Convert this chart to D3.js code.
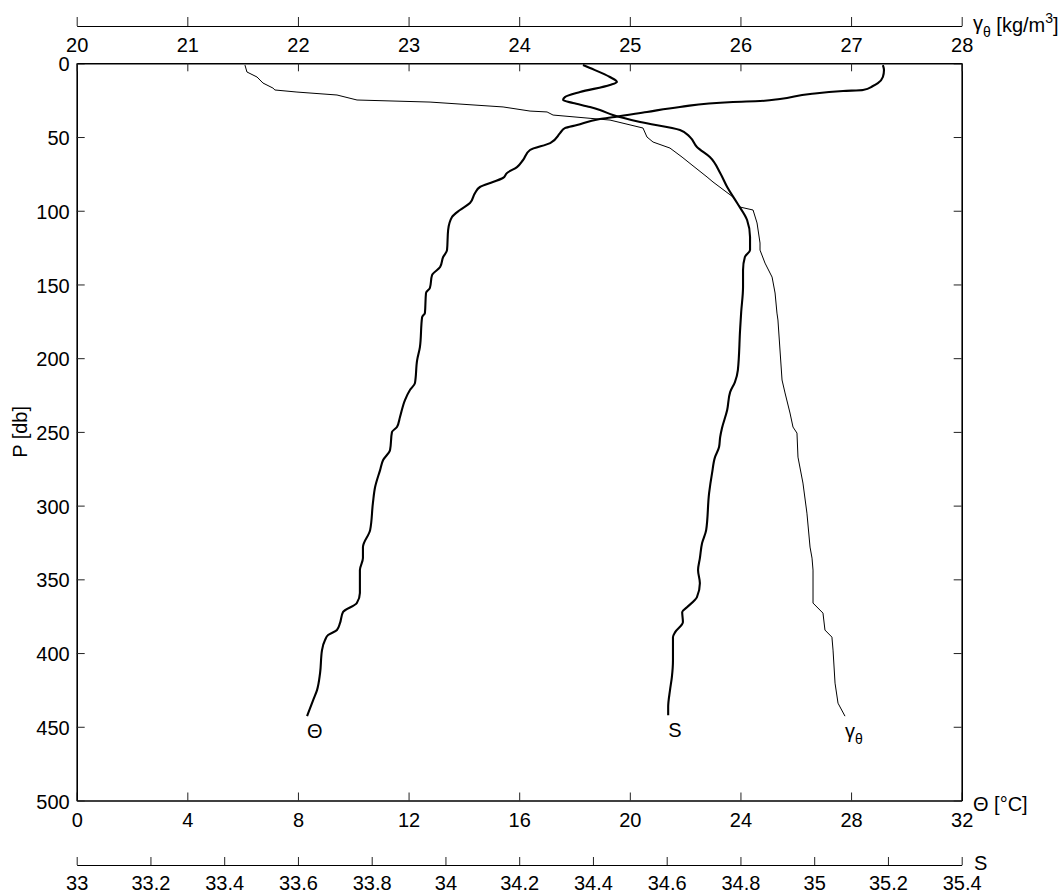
<!DOCTYPE html>
<html>
<head>
<meta charset="utf-8">
<script src="https://cdn.jsdelivr.net/npm/d3@7"></script>
<style>
  html, body { margin: 0; padding: 0; background: #fff; }
  svg { display: block; font-family: "Liberation Sans", Arial, sans-serif; }
  .lbl { font-size: 20px; fill: #000; }
</style>
</head>
<body>
<svg id="chart" width="1063" height="894"></svg>
<script>
// ---------- Data ----------
// Potential temperature profile
const thetaPressure = [1.2,4.5,9.3,13.4,15.4,18.1,18.8,20.8,24.2,25.6,26.2,29.6,33.0,36.4,37.8,41.9,44.0,47.3,54.1,58.8,65.6,70.4,74.4,77.8,80.5,83.9,88.0,94.8,99.5,104.3,113.1,126.7,131.4,138.2,143.6,152.4,155.8,169.4,172.1,192.5,201.3,216.9,221.6,228.4,239.9,246.7,250.1,262.3,269.1,275.9,287.4,298.3,316.6,328.1,335.6,343.7,359.3,366.1,372.2,379.7,384.4,387.8,391.2,398.0,413.6,425.1,431.9,440.8,442.8];
const thetaValues = [29.15,29.19,29.15,28.97,28.79,28.43,27.71,26.52,25.43,24.71,23.73,21.81,20.62,19.46,18.92,18.09,17.65,17.48,17.12,16.39,16.14,15.92,15.56,15.41,15.05,14.58,14.40,14.22,13.86,13.57,13.43,13.39,13.25,13.14,12.85,12.77,12.63,12.59,12.49,12.41,12.31,12.23,12.05,11.87,11.69,11.58,11.40,11.33,11.08,10.97,10.79,10.71,10.61,10.35,10.35,10.24,10.24,10.13,9.63,9.52,9.41,9.09,8.98,8.87,8.80,8.69,8.55,8.37,8.33];

// Salinity profile
const salPressure = [1.2,3.2,9.3,12.7,14.7,19.5,22.9,24.9,26.9,29.6,31.7,35.1,39.8,45.2,50.0,56.8,63.6,74.4,83.9,94.8,106.3,117.8,126.7,131.4,140.2,151.8,168.7,180.9,208.1,216.2,223.0,235.2,247.4,253.5,260.3,267.1,278.0,291.5,316.6,325.4,335.6,343.7,352.6,362.1,368.9,372.2,379.0,385.8,389.2,404.8,416.3,425.1,436.6,442.1];
const salValues = [34.373,34.392,34.446,34.465,34.446,34.365,34.324,34.319,34.346,34.392,34.419,34.454,34.528,34.636,34.663,34.682,34.717,34.745,34.764,34.791,34.818,34.826,34.826,34.812,34.807,34.807,34.802,34.799,34.793,34.785,34.772,34.764,34.750,34.745,34.742,34.731,34.723,34.715,34.707,34.696,34.690,34.685,34.690,34.682,34.655,34.642,34.644,34.623,34.617,34.617,34.614,34.609,34.604,34.604];

// Potential density profile
const gammaPressure = [1.2,5.9,9.3,13.4,16.8,18.1,19.5,21.5,24.9,26.3,29.6,32.4,33.0,35.1,38.5,43.9,50.0,53.4,57.5,63.6,69.0,77.1,80.5,90.7,97.5,99.5,108.3,121.9,126.7,135.5,145.0,155.8,169.4,174.1,214.8,223.6,237.2,246.7,250.8,267.1,284.7,305.1,328.1,335.6,343.7,366.1,372.9,384.4,389.2,398.0,420.4,434.0,442.8];
const gammaValues = [21.521,21.539,21.630,21.684,21.774,21.792,21.991,22.353,22.534,23.194,23.854,24.098,24.252,24.306,24.821,25.119,25.155,25.210,25.363,25.472,25.562,25.698,25.752,25.933,25.996,26.114,26.150,26.177,26.177,26.222,26.286,26.313,26.330,26.339,26.376,26.403,26.448,26.475,26.511,26.520,26.565,26.601,26.629,26.647,26.656,26.656,26.746,26.764,26.827,26.837,26.855,26.882,26.945];

// Tick values
const pressureTicks = [0,50,100,150,200,250,300,350,400,450,500];
const thetaTicks = [0,4,8,12,16,20,24,28,32];
const salTicks = [33,33.2,33.4,33.6,33.8,34,34.2,34.4,34.6,34.8,35,35.2,35.4];
const gammaTicks = [20,21,22,23,24,25,26,27,28];

// ---------- Layout ----------
const L = 76.7, R = 961.7, T = 63.3, B = 800.5;
const gammaAxisY = 26, salAxisY = 865;

const svg = d3.select("#chart");

const y = d3.scaleLinear().domain([0, 500]).range([T, B]);
const xT = d3.scaleLinear().domain([0, 32]).range([L, R]);
const xS = d3.scaleLinear().domain([33, 35.4]).range([L, R]);
const xG = d3.scaleLinear().domain([20, 28]).range([L, R]);

function styleAxis(g, lineW) {
  g.selectAll("path.domain").attr("stroke", "#000").attr("stroke-width", lineW);
  g.selectAll(".tick line").attr("stroke", "#222").attr("stroke-width", 1);
  g.selectAll(".tick text").attr("class", "lbl").attr("font-family", null).attr("font-size", null).attr("fill", "#000");
  g.attr("font-family", null).attr("font-size", null);
}

// Top gamma axis (separate, above plot)
const gAx = svg.append("g").attr("transform", `translate(0,${gammaAxisY})`)
  .call(d3.axisBottom(xG).tickValues(gammaTicks).tickSizeInner(-9).tickSizeOuter(0).tickPadding(12).tickFormat(d3.format("~g")));
styleAxis(gAx, 1);

// Bottom salinity axis
const sAx = svg.append("g").attr("transform", `translate(0,${salAxisY})`)
  .call(d3.axisBottom(xS).tickValues(salTicks).tickSizeInner(-8).tickSizeOuter(0).tickPadding(11).tickFormat(d3.format("~g")));
styleAxis(sAx, 1);

// Plot box: bottom theta axis
const tAx = svg.append("g").attr("transform", `translate(0,${B})`)
  .call(d3.axisBottom(xT).tickValues(thetaTicks).tickSizeInner(-8).tickSizeOuter(0).tickPadding(12).tickFormat(d3.format("~g")));
styleAxis(tAx, 1.6);

// Left pressure axis
const pAx = svg.append("g").attr("transform", `translate(${L},0)`)
  .call(d3.axisLeft(y).tickValues(pressureTicks).tickSizeInner(-8).tickSizeOuter(0).tickPadding(7).tickFormat(d3.format("~g")));
styleAxis(pAx, 1.6);
pAx.selectAll(".tick text").attr("dy", "0.38em");

// Right border with inward ticks
const rAx = svg.append("g").attr("transform", `translate(${R},0)`)
  .call(d3.axisRight(y).tickValues(pressureTicks).tickSizeInner(-8).tickSizeOuter(0).tickFormat(""));
styleAxis(rAx, 1.6);

// Top border with inward gamma ticks
const tbAx = svg.append("g").attr("transform", `translate(0,${T})`)
  .call(d3.axisTop(xG).tickValues(gammaTicks).tickSizeInner(-8).tickSizeOuter(0).tickFormat(""));
styleAxis(tbAx, 1.6);

// ---------- Curves ----------
const thetaData = d3.zip(thetaPressure, thetaValues);
const salData = d3.zip(salPressure, salValues);
const gammaData = d3.zip(gammaPressure, gammaValues);

const lineT = d3.line().x(d => xT(d[1])).y(d => y(d[0])).curve(d3.curveMonotoneY);
const lineS = d3.line().x(d => xS(d[1])).y(d => y(d[0])).curve(d3.curveMonotoneY);
const lineG = d3.line().x(d => xG(d[1])).y(d => y(d[0])).curve(d3.curveLinear);

svg.append("path").datum(gammaData).attr("d", lineG)
  .attr("fill", "none").attr("stroke", "#000").attr("stroke-width", 1).attr("stroke-linejoin", "round");
svg.append("path").datum(thetaData).attr("d", lineT)
  .attr("fill", "none").attr("stroke", "#000").attr("stroke-width", 2.1).attr("stroke-linejoin", "round");
svg.append("path").datum(salData).attr("d", lineS)
  .attr("fill", "none").attr("stroke", "#000").attr("stroke-width", 2.1).attr("stroke-linejoin", "round");

// Curve end labels
const lastT = thetaData[thetaData.length - 1];
const lastS = salData[salData.length - 1];
const lastG = gammaData[gammaData.length - 1];

svg.append("text").attr("class", "lbl").attr("x", xT(lastT[1])).attr("y", y(lastT[0]) + 22).text("Θ");
svg.append("text").attr("class", "lbl").attr("x", xS(lastS[1])).attr("y", y(lastS[0]) + 22).text("S");
const gl = svg.append("text").attr("class", "lbl").attr("x", xG(lastG[1])).attr("y", y(lastG[0]) + 22);
gl.append("tspan").text("γ");
gl.append("tspan").attr("font-size", 14).attr("dy", 6).text("θ");

// ---------- Axis titles ----------
const gt = svg.append("text").attr("class", "lbl").attr("x", 973).attr("y", 30);
gt.append("tspan").text("γ");
gt.append("tspan").attr("font-size", 14).attr("dy", 7).text("θ");
gt.append("tspan").attr("dy", -5).text(" [kg/m");
gt.append("tspan").attr("font-size", 14).attr("dy", -9).text("3");
gt.append("tspan").attr("dy", 9).text("]");

svg.append("text").attr("class", "lbl").attr("x", 973).attr("y", 811).text("Θ [°C]");
svg.append("text").attr("class", "lbl").attr("x", 974).attr("y", 870).text("S");

svg.append("text").attr("class", "lbl")
  .attr("transform", `translate(27,${(T + B) / 2}) rotate(-90)`)
  .attr("text-anchor", "middle").text("P [db]");
</script>
</body>
</html>
